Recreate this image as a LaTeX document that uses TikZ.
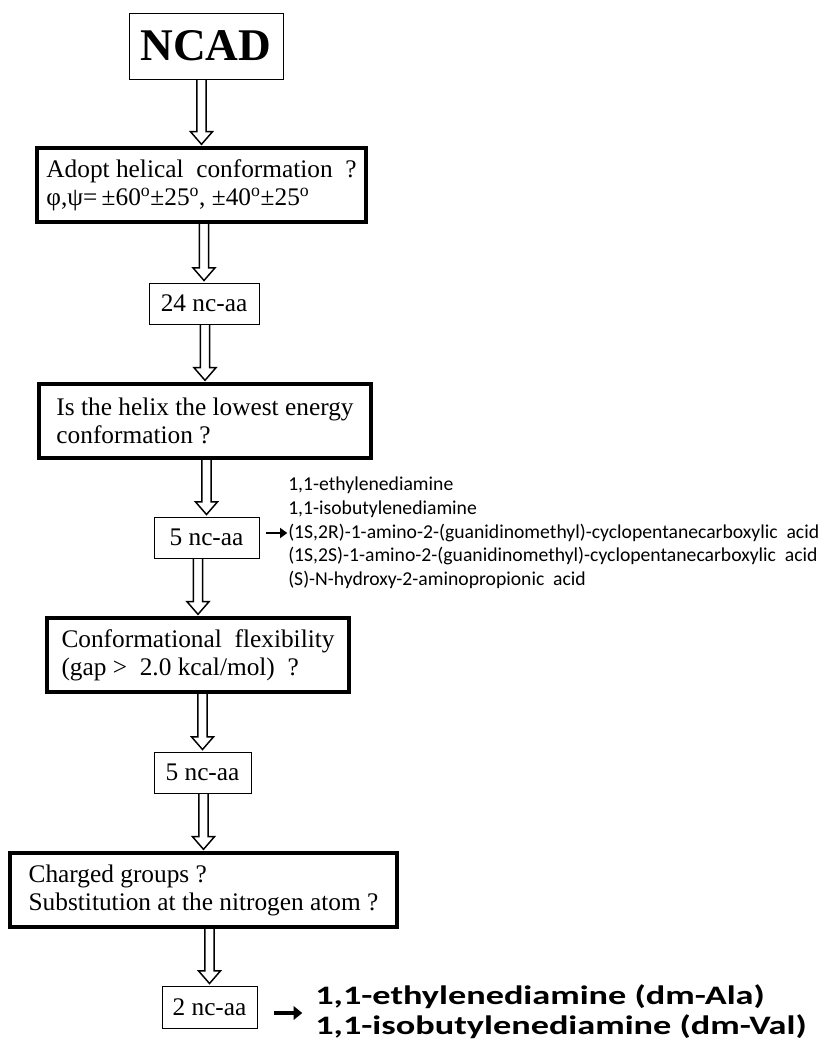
\documentclass[tikz,border=0pt]{standalone}
\usepackage{fontspec}
\setmainfont{Liberation Serif}
\newfontfamily\carlito{Carlito}
\usetikzlibrary{calc,arrows.meta}
% hollow down arrow from node #1 to node #2
\def\HA#1#2{\draw [line width=1.1pt] let \p1=(#2.north), \p2=(#1.south) in
  (\x1-3.4pt,\y2) -- (\x1-3.4pt,\y1+11pt) -- (\x1-8.25pt,\y1+11pt) -- (\x1,\y1+1.5pt)
  -- (\x1+8.25pt,\y1+11pt) -- (\x1+3.4pt,\y1+11pt) -- (\x1+3.4pt,\y2);}
\def\dg{\textsuperscript{o}}

\begin{document}
\begin{tikzpicture}[x=0.75pt,y=-0.75pt,
  box/.style={draw,line width=0.75pt,inner sep=0pt,minimum height=30.75pt,
    font=\fontsize{19}{21}\selectfont},
  qbox/.style={box,line width=2.5pt,align=left,minimum width=#1,minimum height=55.5pt},
  blk/.style={-{Triangle[length=5.5pt,width=7.5pt]},line width=2.2pt}]
  \useasboundingbox (0,0) rectangle (834,1050);
  \node[box,minimum width=115.5pt,minimum height=49.5pt,font=\fontsize{34}{40}\selectfont\bfseries]
    (ncad) at (206,46) {NCAD};
  \node[qbox=246.75pt] (adopt) at (201.5,185)
    {Adopt helical\ \ conformation\ \ ?\\φ,ψ=\,±60\dg±25\dg, ±40\dg±25\dg};
  \node[box,minimum width=82.5pt] (n24) at (204,303.5) {24 nc-aa};
  \node[qbox=249pt] (helix) at (205,421)
    {Is the helix the lowest energy\\conformation ?};
  \node[box,minimum width=78.75pt] (n5a) at (206.5,537.5) {5 nc-aa};
  \node[qbox=226.5pt] (conf) at (198,655)
    {Conformational\ \ flexibility\\(gap >\ \ 2.0 kcal/mol)\ \ ?};
  \node[box,minimum width=72.75pt] (n5b) at (202.5,772.5) {5 nc-aa};
  \node[qbox=290.25pt] (charged) at (203.5,890)
    {Charged groups ?\\Substitution at the nitrogen atom ?};
  \node[box,minimum width=71.25pt,minimum height=31.5pt] (n2) at (209.5,1007) {2 nc-aa};
  % side lists
  \node[anchor=west,inner sep=0pt,align=left,font=\carlito\fontsize{14.75}{17.8}\selectfont]
    (list) at (288,533) {1,1-ethylenediamine\\1,1-isobutylenediamine\\
    (1S,2R)-1-amino-2-(guanidinomethyl)-cyclopentanecarboxylic\ \ acid\\
    (1S,2S)-1-amino-2-(guanidinomethyl)-cyclopentanecarboxylic\ \ acid\\
    (S)-N-hydroxy-2-aminopropionic\ \ acid};
  \node[anchor=west,inner sep=0pt,font=\carlito\bfseries\fontsize{20}{22.5}\selectfont]
    (res) at (315,1013) {\scalebox{1.36}[1]{\begin{tabular}{@{}l@{}}1,1-ethylenediamine (dm-Ala)\\1,1-isobutylenediamine (dm-Val)\end{tabular}}};
  % arrows
  \HA{ncad}{adopt} \HA{adopt}{n24} \HA{n24}{helix} \HA{helix}{n5a}
  \HA{n5a}{conf} \HA{conf}{n5b} \HA{n5b}{charged} \HA{charged}{n2}
  \draw[blk,shorten <=5pt,shorten >=0.5pt] (n5a.east |- list.west) -- (list.west);
  \draw[blk,line width=3pt,-{Triangle[length=6.5pt,width=10pt]},shorten <=12pt,shorten >=9.5pt]
    (n2.east |- res.west) -- (res.west);
\end{tikzpicture}
\end{document}
